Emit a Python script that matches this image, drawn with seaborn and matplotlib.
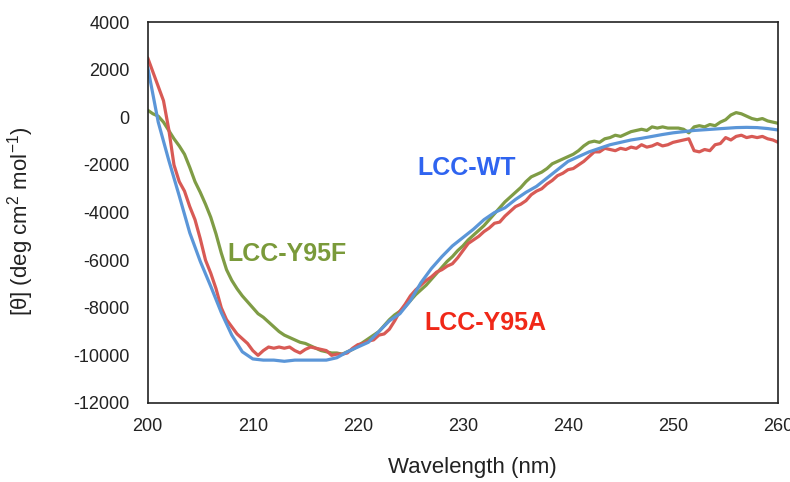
import numpy as np
import pandas as pd
import matplotlib
matplotlib.use("Agg")
import matplotlib.pyplot as plt
import seaborn as sns

# CD spectra (wavelength in nm, [theta] in deg cm2 mol-1)
wl_wt = list(range(200, 261))
theta_wt = [2100, -200, -1800, -3300, -4850, -6050, -7100, -8200, -9150, -9850,
            -10150, -10200, -10200, -10250, -10200, -10200, -10200, -10200, -10100, -9850,
            -9650, -9450, -9000, -8550, -8250, -7700, -6950, -6350, -5850, -5400,
            -5050, -4700, -4300, -4000, -3800, -3450, -3150, -2900, -2550, -2200,
            -1850, -1650, -1450, -1300, -1150, -1050, -950, -880, -800, -720,
            -650, -600, -550, -520, -490, -460, -430, -420, -430, -470,
            -530]

wl_half = [200 + 0.5 * i for i in range(121)]
theta_y95a = [2500, 1900, 1300, 700, -500, -2000, -2700, -3100, -3750, -4300,
              -5100, -6000, -6550, -7200, -8000, -8500, -8800, -9100, -9300, -9500,
              -9800, -10000, -9800, -9650, -9700, -9650, -9700, -9650, -9800, -9900,
              -9750, -9650, -9700, -9750, -9800, -10000, -9950, -9950, -9900, -9700,
              -9550, -9500, -9400, -9350, -9150, -9100, -8900, -8550, -8150, -7850,
              -7500, -7250, -7050, -6850, -6700, -6500, -6400, -6250, -6150, -5900,
              -5600, -5300, -5150, -5000, -4800, -4650, -4450, -4400, -4150, -3950,
              -3750, -3650, -3500, -3250, -3100, -3000, -2800, -2650, -2450, -2350,
              -2200, -2150, -2000, -1850, -1650, -1450, -1450, -1300, -1350, -1400,
              -1300, -1350, -1250, -1300, -1150, -1250, -1200, -1100, -1200, -1150,
              -1050, -1000, -950, -900, -1400, -1450, -1350, -1400, -1150, -1100,
              -850, -950, -800, -750, -850, -800, -850, -800, -900, -950,
              -1050]
theta_y95f = [300, 150, 50, -200, -550, -900, -1200, -1550, -2100, -2700,
              -3150, -3650, -4200, -4900, -5700, -6400, -6850, -7200, -7500, -7750,
              -8000, -8250, -8400, -8600, -8800, -9000, -9150, -9250, -9350, -9450,
              -9500, -9600, -9700, -9800, -9850, -9900, -9900, -9950, -9850, -9750,
              -9600, -9450, -9300, -9150, -9000, -8750, -8500, -8300, -8150, -7950,
              -7700, -7450, -7250, -7050, -6800, -6550, -6300, -6050, -5850, -5600,
              -5400, -5150, -4950, -4750, -4550, -4300, -4050, -3800, -3550, -3350,
              -3150, -2950, -2700, -2500, -2400, -2300, -2150, -1950, -1850, -1750,
              -1650, -1550, -1400, -1200, -1050, -1000, -1050, -900, -850, -750,
              -800, -700, -600, -550, -500, -550, -400, -450, -400, -450,
              -450, -450, -500, -650, -400, -350, -400, -300, -350, -200,
              -100, 100, 200, 150, 50, -50, -100, -50, -150, -200,
              -250]

sns.set_theme(style="white")
plt.rcParams["font.family"] = ["Liberation Sans", "DejaVu Sans"]
plt.rcParams["mathtext.fontset"] = "custom"
plt.rcParams["mathtext.rm"] = "Liberation Sans"
plt.rcParams["mathtext.it"] = "Liberation Sans"
plt.rcParams["axes.unicode_minus"] = False

fig, ax = plt.subplots(figsize=(7.9, 4.82), dpi=100)
fig.subplots_adjust(left=0.187, right=0.985, top=0.954, bottom=0.164)

df_wt = pd.DataFrame({"wl": wl_wt, "theta": theta_wt})
df_a = pd.DataFrame({"wl": wl_half, "theta": theta_y95a})
df_f = pd.DataFrame({"wl": wl_half, "theta": theta_y95f})

sns.lineplot(data=df_f, x="wl", y="theta", color="#7f9c45", lw=2.3, ax=ax)
sns.lineplot(data=df_a, x="wl", y="theta", color="#d85a55", lw=2.3, ax=ax)
sns.lineplot(data=df_wt, x="wl", y="theta", color="#5b96d8", lw=2.3, ax=ax)

ax.set_xlim(200, 260)
ax.set_ylim(-12000, 4000)
ax.set_xticks(range(200, 261, 10))
ax.set_yticks(range(-12000, 4001, 2000))
ax.tick_params(direction="in", length=4, width=1, labelsize=13, colors="#222222", pad=11)
ax.tick_params(axis="y", pad=13)
for s in ax.spines.values():
    s.set_color("#222222")
    s.set_linewidth(1.2)

ax.set_xlabel("Wavelength (nm)", fontsize=16, color="#222222")
ax.set_ylabel("[θ] (deg cm$^{2}$ mol$^{-1}$)", fontsize=16, color="#222222")
ax.xaxis.set_label_coords(0.515, -0.142)
ax.yaxis.set_label_coords(-0.178, 0.477)

ax.text(225.7, -2130, "LCC-WT", color="#2f64f0", fontsize=18, fontweight="bold", va="center")
ax.text(207.6, -5750, "LCC-Y95F", color="#7a9a3a", fontsize=18, fontweight="bold", va="center")
ax.text(226.3, -8650, "LCC-Y95A", color="#f02818", fontsize=18, fontweight="bold", va="center")

plt.savefig("out.png", dpi=100)
